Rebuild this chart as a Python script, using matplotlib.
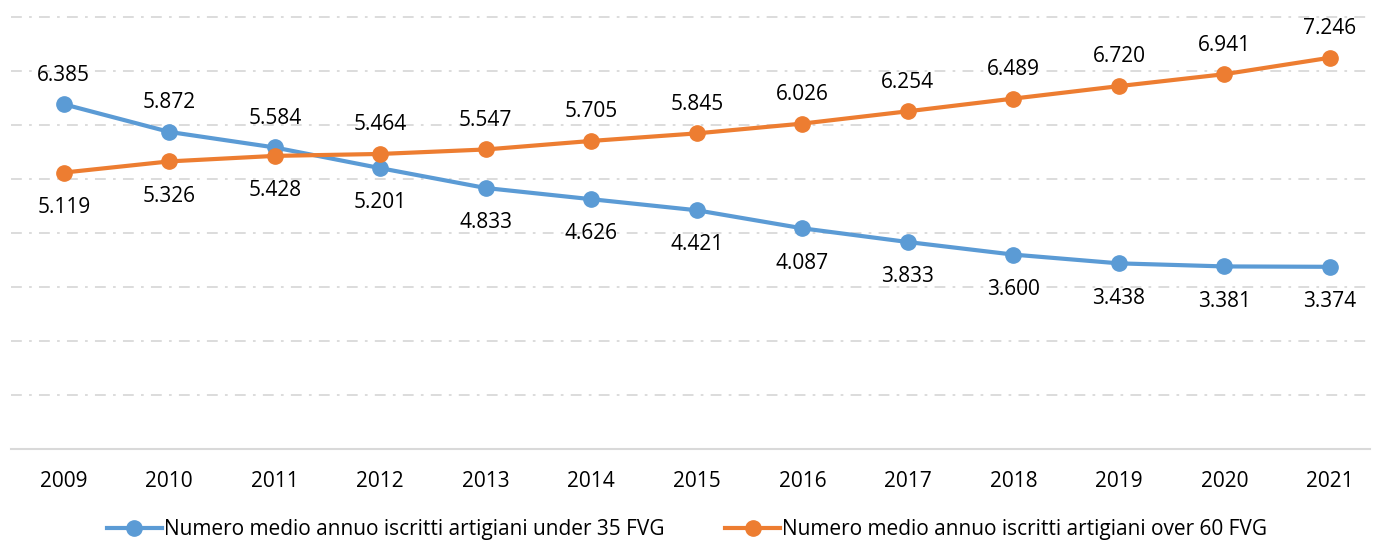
import matplotlib.pyplot as plt
from matplotlib.lines import Line2D

plt.rcParams['font.family'] = ['Open Sans', 'DejaVu Sans']

years = ['2009', '2010', '2011', '2012', '2013', '2014', '2015',
         '2016', '2017', '2018', '2019', '2020', '2021']
under35 = [6385, 5872, 5584, 5201, 4833, 4626, 4421, 4087, 3833, 3600, 3438, 3381, 3374]
over60 = [5119, 5326, 5428, 5464, 5547, 5705, 5845, 6026, 6254, 6489, 6720, 6941, 7246]
label_under35 = 'Numero medio annuo iscritti artigiani under 35 FVG'
label_over60 = 'Numero medio annuo iscritti artigiani over 60 FVG'

blue = '#5B9BD5'
orange = '#ED7D31'

W, H = 1374, 542
fig = plt.figure(figsize=(W / 100, H / 100), dpi=100)
# axes placed in pixel terms: x 11..1370, y 0..449 (from top)
ax = fig.add_axes([11 / W, (H - 449) / H, (1370 - 11) / W, 449 / H])

x = list(range(len(years)))
ax.plot(x, under35, color=blue, lw=3, marker='o', ms=11, zorder=3)
ax.plot(x, over60, color=orange, lw=3, marker='o', ms=11, zorder=3)

def fmt(v):
    return f"{v:,}".replace(",", ".")

for i, (b, o) in enumerate(zip(under35, over60)):
    blue_up = b > o
    ax.annotate(fmt(b), (i, b), xytext=(0, 21 if blue_up else -25),
                textcoords='offset points', ha='center', va='center', fontsize=15)
    ax.annotate(fmt(o), (i, o), xytext=(0, -25 if blue_up else 21),
                textcoords='offset points', ha='center', va='center', fontsize=15)

ax.set_xlim(-0.5, 12.38)
ax.set_ylim(0, 8315)
ax.set_yticks(range(1000, 9000, 1000))
ax.grid(axis='y', color='#D9D9D9', lw=1.3, linestyle=(0, (6, 4, 1.5, 4)))
ax.set_axisbelow(True)
for s in ['top', 'right', 'left']:
    ax.spines[s].set_visible(False)
ax.spines['bottom'].set_color('#D9D9D9')
ax.spines['bottom'].set_linewidth(1.5)
ax.set_xticks(x)
ax.set_xticklabels(years, fontsize=15)
ax.tick_params(axis='x', length=0, pad=16)
ax.tick_params(axis='y', length=0, labelleft=False)

handles = [Line2D([], [], color=blue, lw=3, marker='o', ms=11),
           Line2D([], [], color=orange, lw=3, marker='o', ms=11)]
fig.legend(handles, [label_under35, label_over60], loc='center',
           bbox_to_anchor=(0.5, 1 - 530 / H), ncol=2, frameon=False,
           fontsize=15, handlelength=2.65, handletextpad=0.1, columnspacing=2.9,
           borderaxespad=0)

fig.savefig('out.png', dpi=100)
